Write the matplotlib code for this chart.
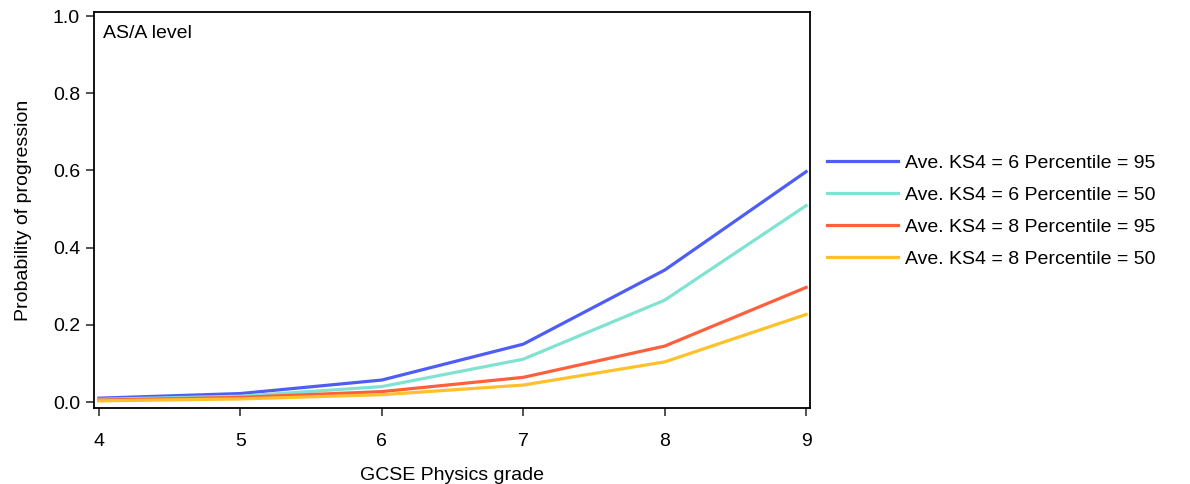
import matplotlib
matplotlib.use("Agg")
import matplotlib.pyplot as plt

plt.rcParams['font.family'] = ['Liberation Sans', 'DejaVu Sans']

grades = [4, 5, 6, 7, 8, 9]

# predicted probability of progressing to AS/A level
ks6_p95 = [0.010, 0.022, 0.057, 0.150, 0.342, 0.597]
ks6_p50 = [0.007, 0.015, 0.040, 0.111, 0.264, 0.509]
ks8_p95 = [0.005, 0.012, 0.027, 0.064, 0.145, 0.297]
ks8_p50 = [0.003, 0.008, 0.019, 0.044, 0.104, 0.227]

labels = [
    "Ave. KS4 = 6 Percentile = 95",
    "Ave. KS4 = 6 Percentile = 50",
    "Ave. KS4 = 8 Percentile = 95",
    "Ave. KS4 = 8 Percentile = 50",
]
colors = ['#4F5DF7', '#80E3D2', '#FF603C', '#FFC02C']

fig = plt.figure(figsize=(11.9, 4.84), dpi=100)
ax = fig.add_axes([0.079, 0.157, 0.602, 0.818])

for series, lab, col in zip([ks6_p95, ks6_p50, ks8_p95, ks8_p50], labels, colors):
    ax.plot(grades, series, color=col, lw=2.3, label=lab)

ax.set_xlim(3.965, 9.03)
ax.set_ylim(-0.0155, 1.0104)
ax.set_xticks(grades)
ax.set_yticks([0.0, 0.2, 0.4, 0.6, 0.8, 1.0])
ax.set_yticklabels(["0.0", "0.2", "0.4", "0.6", "0.8", "1.0"])
ax.tick_params(direction='out', length=6, width=1.2, labelsize=14, color='#333333')
ax.tick_params(axis='x', pad=12)
ax.tick_params(axis='y', pad=4)
for s in ax.spines.values():
    s.set_linewidth(1.3)

ax.set_xlabel("GCSE Physics grade", fontsize=14, labelpad=12)
ax.set_ylabel("Probability of progression", fontsize=14, labelpad=15)
ax.text(0.012, 0.968, "AS/A level", transform=ax.transAxes, ha='left', va='top', fontsize=14)

leg = fig.legend(loc='center left', bbox_to_anchor=(0.6805, 0.564), frameon=False,
                 fontsize=14, handlelength=3.65, handletextpad=0.36, labelspacing=0.75)

fig.savefig("out.png", dpi=100)
